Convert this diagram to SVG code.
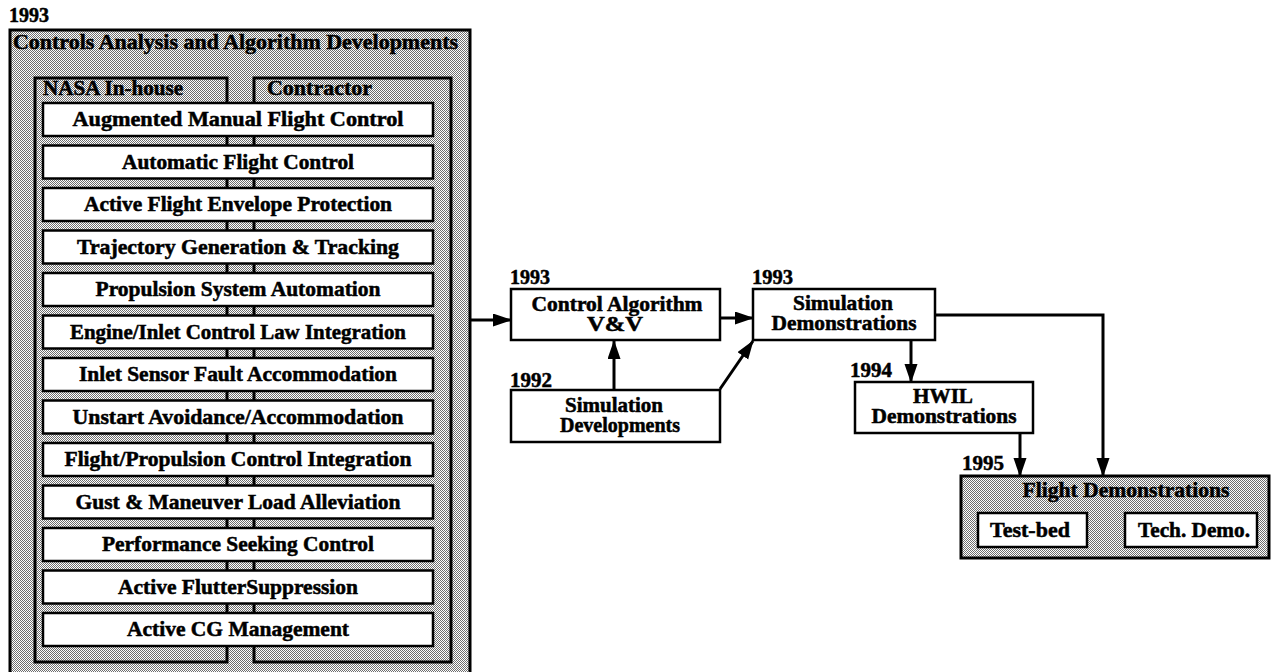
<svg xmlns="http://www.w3.org/2000/svg" width="1271" height="672" viewBox="0 0 1271 672">
<defs>
  <pattern id="dots" width="2" height="2" patternUnits="userSpaceOnUse">
    <rect width="2" height="2" fill="#ffffff"/>
    <rect x="0" y="0" width="1" height="1" fill="#6e6e6e"/>
    <rect x="1" y="1" width="1" height="1" fill="#6e6e6e"/>
  </pattern>
  <marker id="arrow" markerUnits="userSpaceOnUse" markerWidth="20" markerHeight="14" refX="18" refY="6.5" orient="auto">
    <path d="M0,0 L19,6.5 L0,13 z" fill="#000"/>
  </marker>
  <style>
    text { font-family: "Liberation Serif", "Times New Roman", serif; font-weight: bold; font-size: 20px; fill: #000; stroke: #000; stroke-width: 0.5; }
    .m { text-anchor: middle; }
    .box { fill: #fff; stroke: #000; stroke-width: 2.5; }
    .pbox { fill: url(#dots); stroke: #000; stroke-width: 3; }
    .conn { fill: none; stroke: #000; stroke-width: 3; marker-end: url(#arrow); }
  </style>
</defs>
<rect width="1271" height="672" fill="#fff"/>

<g id="controls-analysis">
  <text x="9" y="22" textLength="40" lengthAdjust="spacingAndGlyphs">1993</text>
  <rect class="pbox" x="10" y="30" width="460" height="660"/>
  <text x="13" y="49" textLength="445" lengthAdjust="spacingAndGlyphs">Controls Analysis and Algorithm Developments</text>
  <rect class="pbox" x="35" y="78" width="192" height="584"/>
  <rect class="pbox" x="254" y="78" width="197" height="584"/>
  <text x="43" y="95" textLength="140" lengthAdjust="spacingAndGlyphs">NASA In-house</text>
  <text x="267" y="95" textLength="105" lengthAdjust="spacingAndGlyphs">Contractor</text>
</g>

<g id="item-1"><rect class="box" x="43" y="103" width="390" height="33"/><text class="m" x="238" y="126" textLength="331" lengthAdjust="spacingAndGlyphs">Augmented Manual Flight Control</text></g>
<g id="item-2"><rect class="box" x="43" y="145.5" width="390" height="33"/><text class="m" x="238" y="168.5" textLength="232" lengthAdjust="spacingAndGlyphs">Automatic Flight Control</text></g>
<g id="item-3"><rect class="box" x="43" y="188" width="390" height="33"/><text class="m" x="238" y="211" textLength="308" lengthAdjust="spacingAndGlyphs">Active Flight Envelope Protection</text></g>
<g id="item-4"><rect class="box" x="43" y="230.5" width="390" height="33"/><text class="m" x="238" y="253.5" textLength="322" lengthAdjust="spacingAndGlyphs">Trajectory Generation &amp; Tracking</text></g>
<g id="item-5"><rect class="box" x="43" y="273" width="390" height="33"/><text class="m" x="238" y="296" textLength="285" lengthAdjust="spacingAndGlyphs">Propulsion System Automation</text></g>
<g id="item-6"><rect class="box" x="43" y="315.5" width="390" height="33"/><text class="m" x="238" y="338.5" textLength="336" lengthAdjust="spacingAndGlyphs">Engine/Inlet Control Law Integration</text></g>
<g id="item-7"><rect class="box" x="43" y="358" width="390" height="33"/><text class="m" x="238" y="381" textLength="318" lengthAdjust="spacingAndGlyphs">Inlet Sensor Fault Accommodation</text></g>
<g id="item-8"><rect class="box" x="43" y="400.5" width="390" height="33"/><text class="m" x="238" y="423.5" textLength="331" lengthAdjust="spacingAndGlyphs">Unstart Avoidance/Accommodation</text></g>
<g id="item-9"><rect class="box" x="43" y="443" width="390" height="33"/><text class="m" x="238" y="466" textLength="347" lengthAdjust="spacingAndGlyphs">Flight/Propulsion Control Integration</text></g>
<g id="item-10"><rect class="box" x="43" y="485.5" width="390" height="33"/><text class="m" x="238" y="508.5" textLength="325" lengthAdjust="spacingAndGlyphs">Gust &amp; Maneuver Load Alleviation</text></g>
<g id="item-11"><rect class="box" x="43" y="528" width="390" height="33"/><text class="m" x="238" y="551" textLength="272" lengthAdjust="spacingAndGlyphs">Performance Seeking Control</text></g>
<g id="item-12"><rect class="box" x="43" y="570.5" width="390" height="33"/><text class="m" x="238" y="593.5" textLength="240" lengthAdjust="spacingAndGlyphs">Active FlutterSuppression</text></g>
<g id="item-13"><rect class="box" x="43" y="613" width="390" height="33"/><text class="m" x="238" y="636" textLength="222" lengthAdjust="spacingAndGlyphs">Active CG Management</text></g>

<g id="control-algorithm">
  <text x="510" y="284" textLength="40" lengthAdjust="spacingAndGlyphs">1993</text>
  <rect class="box" x="511" y="289" width="209" height="51"/>
  <text class="m" x="617" y="311" textLength="171" lengthAdjust="spacingAndGlyphs">Control Algorithm</text>
  <text class="m" x="615" y="331" textLength="56" lengthAdjust="spacingAndGlyphs">V&amp;V</text>
</g>
<g id="simulation-developments">
  <text x="510" y="387" textLength="42" lengthAdjust="spacingAndGlyphs">1992</text>
  <rect class="box" x="511" y="390" width="209" height="52"/>
  <text class="m" x="614" y="412" textLength="98" lengthAdjust="spacingAndGlyphs">Simulation</text>
  <text class="m" x="620" y="432" textLength="120" lengthAdjust="spacingAndGlyphs">Developments</text>
</g>
<g id="simulation-demonstrations">
  <text x="752" y="284" textLength="41" lengthAdjust="spacingAndGlyphs">1993</text>
  <rect class="box" x="753" y="289" width="182" height="51"/>
  <text class="m" x="843" y="310" textLength="100" lengthAdjust="spacingAndGlyphs">Simulation</text>
  <text class="m" x="844" y="330" textLength="145" lengthAdjust="spacingAndGlyphs">Demonstrations</text>
</g>
<g id="hwil-demonstrations">
  <text x="850" y="377" textLength="42" lengthAdjust="spacingAndGlyphs">1994</text>
  <rect class="box" x="855" y="382" width="178" height="51"/>
  <text class="m" x="943" y="403" textLength="60" lengthAdjust="spacingAndGlyphs">HWIL</text>
  <text class="m" x="944" y="423" textLength="145" lengthAdjust="spacingAndGlyphs">Demonstrations</text>
</g>
<g id="flight-demonstrations">
  <text x="962" y="470" textLength="42" lengthAdjust="spacingAndGlyphs">1995</text>
  <rect class="pbox" x="961" y="476" width="308" height="82"/>
  <text class="m" x="1126" y="497" textLength="207" lengthAdjust="spacingAndGlyphs">Flight Demonstrations</text>
</g>
<g id="test-bed">
  <rect class="box" x="978" y="513" width="109" height="34"/>
  <text class="m" x="1030" y="537" textLength="80" lengthAdjust="spacingAndGlyphs">Test-bed</text>
</g>
<g id="tech-demo">
  <rect class="box" x="1125" y="513" width="132" height="34"/>
  <text class="m" x="1194" y="537" textLength="112" lengthAdjust="spacingAndGlyphs">Tech. Demo.</text>
</g>

<g id="connectors">
  <line class="conn" x1="471" y1="320" x2="511" y2="320"/>
  <line class="conn" x1="721" y1="318" x2="753" y2="318"/>
  <line class="conn" x1="614" y1="389" x2="614" y2="341"/>
  <line class="conn" x1="720" y1="389" x2="753" y2="341"/>
  <line class="conn" x1="911" y1="341" x2="911" y2="382"/>
  <polyline class="conn" points="935,315 1103,315 1103,476"/>
  <line class="conn" x1="1020" y1="434" x2="1020" y2="476"/>
</g>
</svg>
